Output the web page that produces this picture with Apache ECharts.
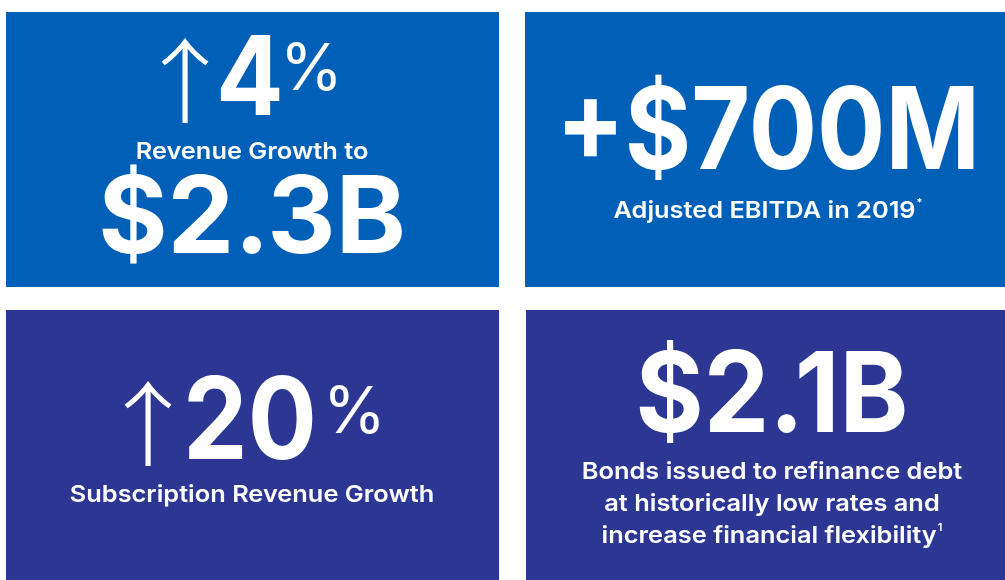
<!DOCTYPE html>
<html>
<head>
<meta charset="utf-8">
<title>2019 highlights</title>
<script src="https://cdn.jsdelivr.net/npm/echarts@6/dist/echarts.min.js"></script>
<style>
  html, body { margin: 0; padding: 0; background: #fff; }
  #main { width: 1005px; height: 580px; }
</style>
</head>
<body>
<div id="main"></div>
<script>
// tile content, in reading order (top-left, top-right, bottom-left, bottom-right)
var trendArrows = ['↑', '', '↑', ''];
var figures = ['4', '+$700M', '20', '$2.1B'];
var figureUnits = ['%', '', '%', ''];
var captions = [
  ['Revenue Growth to'],
  ['Adjusted EBITDA in 2019'],
  ['Subscription Revenue Growth'],
  ['Bonds issued to refinance debt', 'at historically low rates and', 'increase financial flexibility']
];
var footnoteMarks = ['', '*', '', '1'];
var secondFigures = ['$2.3B', '', '', ''];

var FONT = 'Inter, "Open Sans", sans-serif';
var ARROW_FONT = '"Noto Sans CJK SC", sans-serif';
var CAP_SIZE = 23.5;
var CAP_STRETCH = 1.08;   // captions are set a little wider than Inter

// layout of each tile (box + where the text sits)
var tiles = [
  { x: 6, y: 12, w: 493, h: 275, color: '#0060b8', cx: 252, figLeft: 216, figMid: 82, figSize: 110, figStretch: 0.91,
    arrowCx: 185, arrowMid: 81, unitLeft: 280, unitMid: 71, capMid: [152], secondMid: 221, secondSize: 107, secondStretch: 0.99 },
  { x: 525, y: 12, w: 480, h: 275, color: '#0060b8', cx: 768, figMid: 135, figSize: 114, figStretch: 0.89,
    capMid: [211] },
  { x: 6, y: 310, w: 493, h: 270, color: '#2c3794', cx: 252, figLeft: 183, figMid: 425, figSize: 114, figStretch: 0.9,
    arrowCx: 148, arrowMid: 424, unitLeft: 323, unitMid: 414, capMid: [495] },
  { x: 526, y: 310, w: 479, h: 270, color: '#2c3794', cx: 772, figMid: 398, figSize: 112, figStretch: 0.93,
    capMid: [472, 504, 536] }
];

var measureCtx = document.createElement('canvas').getContext('2d');
function textWidth(str, font) {
  measureCtx.font = font;
  return measureCtx.measureText(str).width;
}

function label(str, x, y, size, weight, align, stretch, family) {
  return {
    type: 'text', x: x, y: y, scaleX: stretch || 1, silent: true,
    style: {
      text: str, fill: '#ffffff',
      font: weight + ' ' + size + 'px ' + (family || FONT),
      textAlign: align, textVerticalAlign: 'middle'
    }
  };
}

var elements = [];
tiles.forEach(function (t, i) {
  elements.push({ type: 'rect', shape: { x: t.x, y: t.y, width: t.w, height: t.h }, style: { fill: t.color }, silent: true });

  if (trendArrows[i]) {
    elements.push(label(trendArrows[i], t.arrowCx, t.arrowMid, 92, 300, 'center', 1.1, ARROW_FONT));
    elements.push(label(figures[i], t.figLeft, t.figMid, t.figSize, 700, 'left', t.figStretch));
    elements.push(label(figureUnits[i], t.unitLeft, t.unitMid, 64, 400, 'left'));
  } else {
    elements.push(label(figures[i], t.cx, t.figMid, t.figSize, 700, 'center', t.figStretch));
  }

  captions[i].forEach(function (line, k) {
    var last = k === captions[i].length - 1;
    var capFont = '600 ' + CAP_SIZE + 'px ' + FONT;
    if (last && footnoteMarks[i]) {
      var w = textWidth(line, capFont) * CAP_STRETCH;
      var mw = textWidth(footnoteMarks[i], '600 11px ' + FONT);
      var left = t.cx - (w + mw + 1) / 2;
      elements.push(label(line, left, t.capMid[k], CAP_SIZE, 600, 'left', CAP_STRETCH));
      elements.push(label(footnoteMarks[i], left + w + 1, t.capMid[k] - 8, 11, 600, 'left'));
    } else {
      elements.push(label(line, t.cx, t.capMid[k], CAP_SIZE, 600, 'center', CAP_STRETCH));
    }
  });

  if (secondFigures[i]) {
    elements.push(label(secondFigures[i], t.cx, t.secondMid, t.secondSize, 700, 'center', t.secondStretch));
  }
});

var chart = echarts.init(document.getElementById('main'), null, { renderer: 'canvas' });
chart.setOption({
  backgroundColor: '#ffffff',
  animation: false,
  graphic: { elements: elements }
});
</script>
</body>
</html>
